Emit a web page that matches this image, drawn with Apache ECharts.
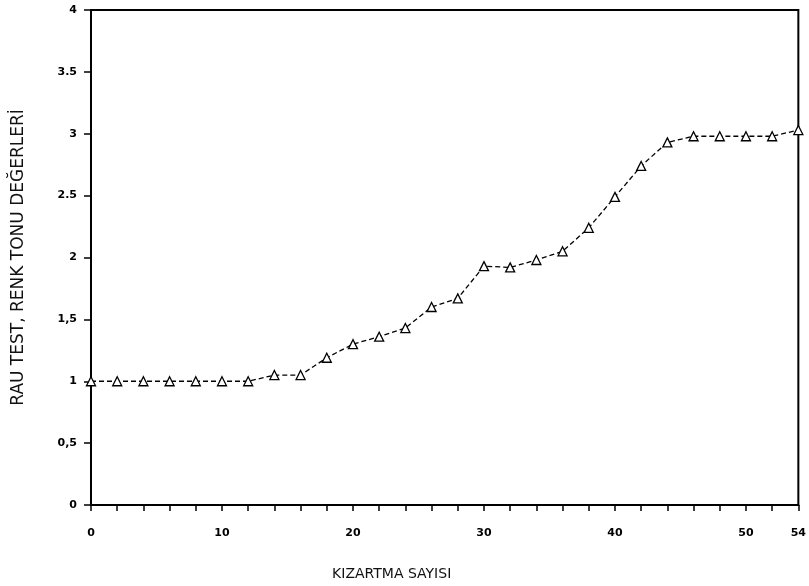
<!DOCTYPE html>
<html>
<head>
<meta charset="utf-8">
<script src="https://cdn.jsdelivr.net/npm/echarts@6/dist/echarts.min.js"></script>
<style>
  html, body { margin: 0; padding: 0; background: #fff; }
  #main { width: 809px; height: 586px; }
</style>
</head>
<body>
<div id="main"></div>
<script>
// kizartma sayisi (x) ve RAU test renk tonu degerleri (y)
var fryCounts = [0, 2, 4, 6, 8, 10, 12, 14, 16, 18, 20, 22, 24, 26, 28, 30, 32, 34, 36, 38, 40, 42, 44, 46, 48, 50, 52, 54];
var rauValues = [1, 1, 1, 1, 1, 1, 1, 1.05, 1.05, 1.19, 1.30, 1.36, 1.43, 1.60, 1.67, 1.93, 1.92, 1.98, 2.05, 2.24, 2.49, 2.74, 2.93, 2.98, 2.98, 2.98, 2.98, 3.03];
var xLabels = [0, 10, 20, 30, 40, 50, 54];
var yLabels = { 0: '0', 0.5: '0,5', 1: '1', 1.5: '1,5', 2: '2', 2.5: '2.5', 3: '3', 3.5: '3.5', 4: '4' };

var myChart = echarts.init(document.getElementById('main'));

var points = fryCounts.map(function (x, i) { return [x, rauValues[i]]; });

var option = {
  backgroundColor: '#fff',
  animation: false,
  grid: {
    left: 91, right: 9, top: 10, bottom: 74,
    show: true, borderColor: '#000', borderWidth: 2
  },
  xAxis: {
    type: 'value',
    min: 0, max: 54, interval: 2,
    name: 'KIZARTMA SAYISI',
    nameLocation: 'middle',
    nameGap: 62,
    nameTextStyle: {
      color: '#111', fontSize: 14, fontFamily: 'DejaVu Sans',
      padding: [0, 106, 0, 0]
    },
    axisLine: { lineStyle: { color: '#000', width: 2 } },
    axisTick: { inside: false, length: 6, lineStyle: { color: '#000', width: 1.5 } },
    splitLine: { show: false },
    axisLabel: {
      color: '#000', fontSize: 11, fontWeight: 'bold', fontFamily: 'DejaVu Sans', margin: 23,
      formatter: function (v) { return xLabels.indexOf(v) >= 0 ? String(v) : ''; }
    }
  },
  yAxis: {
    type: 'value',
    min: 0, max: 4, interval: 0.5,
    name: 'RAU TEST, RENK TONU DEĞERLERİ',
    nameLocation: 'middle',
    nameGap: 64,
    nameTextStyle: { color: '#111', fontSize: 17, fontFamily: 'DejaVu Sans' },
    axisLine: { lineStyle: { color: '#000', width: 2 } },
    axisTick: { inside: false, length: 7, lineStyle: { color: '#000', width: 1.5 } },
    splitLine: { show: false },
    axisLabel: {
      color: '#000', fontSize: 11, fontWeight: 'bold', fontFamily: 'DejaVu Sans', margin: 14,
      formatter: function (v) { return yLabels[v] !== undefined ? yLabels[v] : ''; }
    }
  },
  series: [{
    type: 'line',
    data: points,
    symbol: 'triangle',
    symbolSize: 9,
    showAllSymbol: true,
    lineStyle: { color: '#000', width: 1.3, type: [5, 3] },
    itemStyle: { color: '#fff', borderColor: '#000', borderWidth: 1.3 }
  }]
};

myChart.setOption(option);
</script>
</body>
</html>
